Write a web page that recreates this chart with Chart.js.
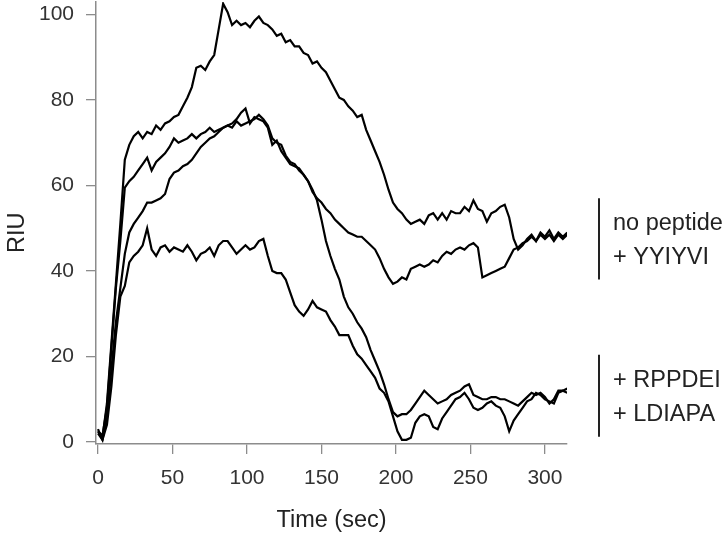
<!DOCTYPE html>
<html lang="en">
<head>
<meta charset="UTF-8">
<title>RIU vs time</title>
<script src="https://cdn.jsdelivr.net/npm/chart.js"></script>
<style>
  html, body { margin: 0; padding: 0; background: #fff; }
</style>
</head>
<body>
<canvas id="riuChart" width="727" height="547"></canvas>
<script>
// sample times (sec)
const timeSec = [
  0, 3, 6, 9, 12, 15, 18, 21, 24, 27,
  30, 33, 36, 39, 42, 45, 48, 51, 54, 57,
  60, 63, 66, 69, 72, 75, 78, 81, 84, 87,
  90, 93, 96, 99, 102, 105, 108, 111, 114, 117,
  120, 123, 126, 129, 132, 135, 138, 141, 144, 147,
  150, 153, 156, 159, 162, 165, 168, 171, 174, 177,
  180, 183, 186, 189, 192, 195, 198, 201, 204, 207,
  210, 213, 216, 219, 222, 225, 228, 231, 234, 237,
  240, 243, 246, 249, 252, 255, 258, 261, 264, 267,
  270, 273, 276, 279, 282, 285, 288, 291, 294, 297,
  300, 303, 306, 309, 312, 315
];

const noPeptide = [
  2.5, 1, 9, 23, 37, 51, 66, 69.5, 71.5, 72.5,
  71, 72.5, 72, 74, 73, 74.5, 75, 76, 76.5, 78.5,
  80.5, 83, 87.5, 88, 87, 89, 90.5, 96.5, 102.5, 100.5,
  97.5, 98.5, 97.5, 98, 97, 98.5, 99.5, 98, 97.5, 96.5,
  95, 95.5, 93.5, 94, 92.5, 92.5, 91, 90.5, 88.5, 89,
  87.5, 86.5, 84.5, 82.5, 80.5, 80, 78.5, 77.5, 76, 76.5,
  73, 70.5, 68, 65.5, 62.5, 59, 56, 54.5, 53.5, 52,
  51, 51.5, 52, 51, 53, 53.5, 52, 53.5, 52, 54,
  53.5, 53.5, 55, 54, 56.5, 54.5, 54, 51.5, 53.5, 54,
  55, 55.5, 52.5, 47.5, 45, 46, 47.5, 48.5, 47, 49,
  48, 49.5, 47.5, 49, 48, 49
];

const plusYYIYVI = [
  2.5, 1.5, 8, 22, 36, 47, 59.5, 61, 62, 63.5,
  65, 66.5, 63.5, 65.5, 66.5, 67.5, 69, 71, 70, 70.5,
  71, 72, 71, 72, 72.5, 73.5, 72.5, 73, 73.5, 74,
  73.5, 75, 74, 74.5, 75, 75.5, 76.5, 75.5, 74, 71,
  70, 69.5, 67, 65.5, 65, 63.5, 62.5, 61, 58.5, 57,
  56, 54.5, 53.5, 52, 51, 50, 49, 48.5, 48, 48,
  47, 46, 45, 43, 40.5, 38.5, 37, 37.5, 38.5, 38,
  40.5, 41, 41.5, 41, 41.5, 42.5, 42, 43.5, 44.5, 44,
  45, 45.5, 45, 46, 46.5, 45.5, 38.5, 39, 39.5, 40,
  40.5, 41, 43, 45, 45.5, 46.5, 47, 48, 47, 48.5,
  47.5, 48.5, 47, 48.5, 47.5, 48.5
];

const plusRPPDEI = [
  2, 0.5, 6, 17, 28, 36, 44, 49, 51, 52.5,
  54, 56, 56, 56.5, 57, 58, 61.5, 63, 63.5, 64.5,
  65, 66, 67.5, 69, 70, 71, 71.5, 72.5, 73.5, 74,
  74.5, 75.5, 77, 78, 74.5, 76, 75.5, 75, 73.5, 69.5,
  70.5, 68, 66.5, 65, 64.5, 64, 62.5, 61, 59, 56.5,
  52, 47, 43.5, 40.5, 38, 34, 31.5, 30, 28, 26.5,
  24.5, 21.5, 19, 16.5, 13.5, 10, 7, 6, 6.5, 6.5,
  7.5, 9, 10.5, 12, 11, 10, 9, 9.5, 10, 11,
  11.5, 12, 13, 13.5, 11, 10.5, 10, 10, 10.5, 10.5,
  10, 10, 9.5, 9, 8.5, 9.5, 10.5, 11.5, 11, 11.5,
  10.5, 9, 10, 12, 12, 12.5
];

const plusLDIAPA = [
  3, 0.5, 4, 13, 25, 34, 36.5, 42, 43.5, 44.5,
  46, 50, 45, 43.5, 45.5, 46, 44.5, 45.5, 45, 44.5,
  46, 44.5, 42.5, 44, 44.5, 45.5, 43.5, 46, 47, 47,
  45.5, 44, 45, 46, 45, 45.5, 47, 47.5, 43.5, 40,
  39.5, 39.5, 38, 35, 32, 30.5, 29.5, 31, 33, 31.5,
  31, 30.5, 28.5, 27, 25, 25, 25, 22.5, 20.5, 19.5,
  18, 16.5, 15, 12.5, 11.5, 9.5, 6, 2.5, 0.5, 0.5,
  1, 4.5, 6, 6.5, 6, 3.5, 3, 5.5, 7, 8.5,
  10, 10.5, 11.5, 10, 8, 7.5, 8, 9, 9.5, 8.5,
  8, 6, 2.5, 5, 6.5, 8, 9.5, 10, 11.5, 11,
  10, 9.5, 9, 11.5, 12, 11.5
];

const xTicks = [0, 50, 100, 150, 200, 250, 300];
const yTicks = [0, 20, 40, 60, 80, 100];
const groupLabels = [['no peptide', '+ YYIYVI'], ['+ RPPDEI', '+ LDIAPA']];
const groupRanges = [[57, 38], [20.4, 1.2]];   // RIU span covered by each bracket

const FONT = 'Liberation Sans, Arial, Helvetica, sans-serif';
const AXIS_GREY = '#8c8c8c';

function toPoints(ys) {
  return timeSec.map((t, i) => ({ x: t, y: ys[i] }));
}

// bracket + text on the right side
const groupNotes = {
  id: 'groupNotes',
  afterDraw(chart) {
    const ctx = chart.ctx;
    const yScale = chart.scales.y;
    ctx.save();
    groupRanges.forEach((r, i) => {
      const y1 = yScale.getPixelForValue(r[0]);
      const y2 = yScale.getPixelForValue(r[1]);
      ctx.strokeStyle = '#222';
      ctx.lineWidth = 2;
      ctx.beginPath();
      ctx.moveTo(599, y1);
      ctx.lineTo(599, y2);
      ctx.stroke();
      const mid = (y1 + y2) / 2;
      ctx.fillStyle = '#222';
      ctx.font = '23.5px ' + FONT;
      ctx.textBaseline = 'middle';
      ctx.textAlign = 'left';
      ctx.fillText(groupLabels[i][0], 613, mid - 15);
      ctx.fillText(groupLabels[i][1], 613, mid + 19);
    });
    ctx.restore();
  }
};

const lineSet = (label, ys) => ({
  label: label,
  data: toPoints(ys),
  borderColor: '#000',
  borderWidth: 2.2,
  pointRadius: 0,
  tension: 0,
  fill: false
});

new Chart(document.getElementById('riuChart'), {
  type: 'line',
  data: {
    datasets: [
      lineSet('no peptide', noPeptide),
      lineSet('+ YYIYVI', plusYYIYVI),
      lineSet('+ RPPDEI', plusRPPDEI),
      lineSet('+ LDIAPA', plusLDIAPA)
    ]
  },
  options: {
    responsive: false,
    animation: false,
    layout: { padding: { top: 2, right: 160, bottom: 0, left: 0 } },
    plugins: { legend: { display: false }, tooltip: { enabled: false } },
    scales: {
      x: {
        type: 'linear',
        min: -1.34,
        max: 314.8,
        afterBuildTicks: s => { s.ticks = xTicks.map(v => ({ value: v })); },
        afterFit: s => { s.height = 103; s.paddingLeft = 0; s.paddingRight = 0; },
        grid: { drawOnChartArea: false, tickLength: 10, color: AXIS_GREY, lineWidth: 1.3 },
        border: { color: AXIS_GREY, width: 1.5 },
        ticks: { color: '#333', font: { family: FONT, size: 21 }, padding: 12, maxRotation: 0 },
        title: { display: true, text: 'Time (sec)', color: '#222', font: { family: FONT, size: 23.5 }, padding: { top: 0, bottom: 12 } }
      },
      y: {
        min: -0.47,
        max: 102.9,
        afterBuildTicks: s => { s.ticks = yTicks.map(v => ({ value: v })); },
        afterFit: s => { s.width = 96; s.paddingTop = 0; s.paddingBottom = 0; },
        grid: { drawOnChartArea: false, tickLength: 10, color: AXIS_GREY, lineWidth: 1.3 },
        border: { color: AXIS_GREY, width: 1.5 },
        ticks: { color: '#333', font: { family: FONT, size: 21 }, padding: 12 },
        title: { display: true, text: 'RIU   ', color: '#222', font: { family: FONT, size: 23.5 }, padding: { top: 3, bottom: 0 } }
      }
    }
  },
  plugins: [groupNotes]
});
</script>
</body>
</html>
